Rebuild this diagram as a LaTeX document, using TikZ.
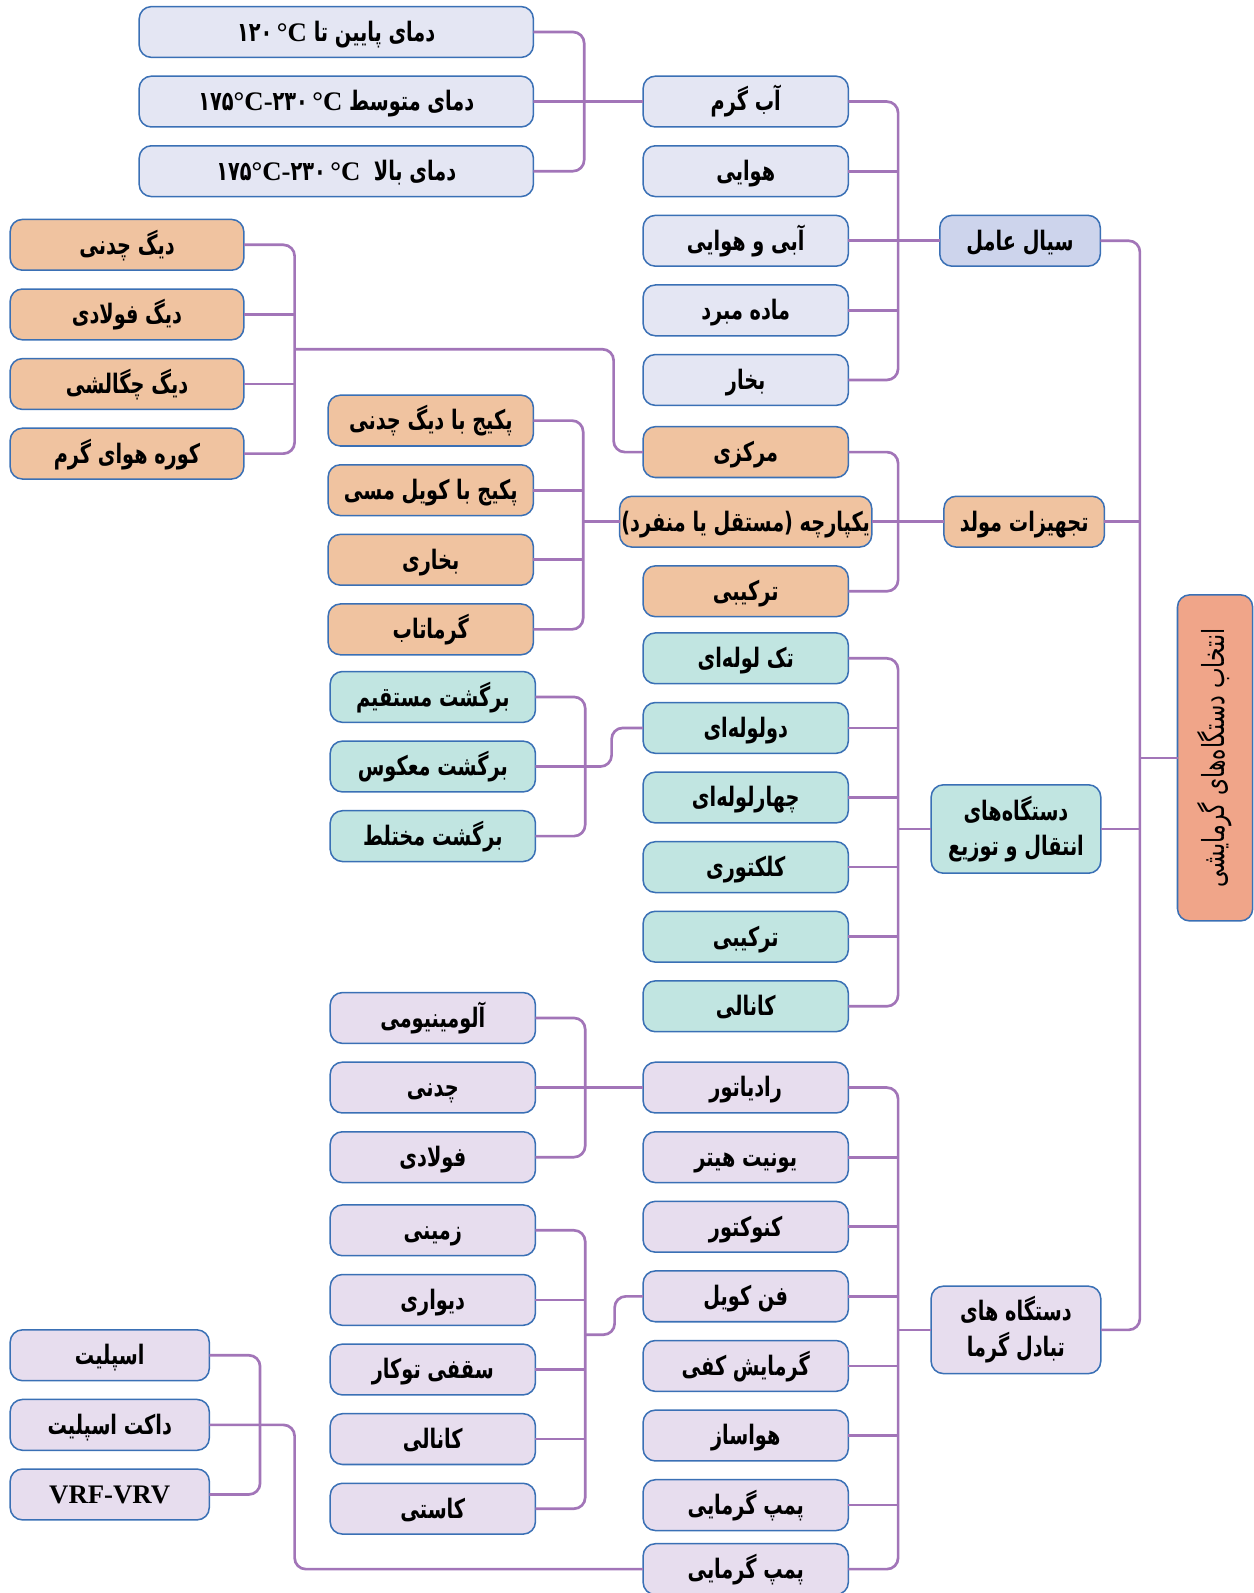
\documentclass[tikz,border=0pt]{standalone}
\usepackage{fontspec}
\usepackage{tikz}
\usetikzlibrary{positioning,calc}
\TeXXeTstate=1
\newfontfamily\fa[Script=Arabic,FakeStretch=0.72]{DejaVu Sans}
\newfontfamily\lat{Liberation Serif}
\definecolor{bordblue}{HTML}{3A70B5}
\definecolor{linkpurple}{HTML}{A275B8}
\definecolor{greyfill}{HTML}{E4E6F3}
\definecolor{sialfill}{HTML}{CDD4EC}
\definecolor{orfill}{HTML}{F0C3A0}
\definecolor{tealfill}{HTML}{C1E5E1}
\definecolor{lavfill}{HTML}{E7DDEE}
\definecolor{rootfill}{HTML}{F0A589}
\newcommand{\farsi}[1]{\beginR #1\endR}

\begin{document}
\begin{tikzpicture}[node distance=0.37cm,font=\fa\bfseries\fontsize{15}{20}\selectfont]
    \tikzstyle{box}=[draw=bordblue,line width=0.85pt,rounded corners=0.24cm,minimum width=4.04cm,minimum height=1cm,inner sep=1pt,outer sep=0pt,text height=0.46cm,text depth=0.09cm,align=center]
    \tikzstyle{tall}=[text height={},text depth={}]
    \tikzstyle{gbox}=[box,fill=greyfill]
    \tikzstyle{sbox}=[box,fill=sialfill,minimum width=3.16cm]
    \tikzstyle{obox}=[box,fill=orfill]
    \tikzstyle{tbox}=[box,fill=tealfill]
    \tikzstyle{pbox}=[box,fill=lavfill]
    \tikzstyle{link}=[draw=linkpurple,line width=1.5pt,rounded corners=0.22cm]
    \useasboundingbox (0,0) rectangle (24.68,-31.36);
    % temperatures
    \node[gbox,minimum width=7.76cm] (t1) at (6.62,-0.63) {\farsi{دمای پایین تا \beginL ۱۲۰{\lat\,°C}\endL}};
    \node[gbox,minimum width=7.76cm,below=of t1] (t2) {\farsi{دمای متوسط \beginL ۱۷۵{\lat °C-}۲۳۰{\lat\,°C}\endL}};
    \node[gbox,minimum width=7.76cm,below=of t2] (t3) {\farsi{دمای بالا\ \ \beginL ۱۷۵{\lat °C-}۲۳۰{\lat\,°C}\endL}};
    % working fluid
    \node[gbox] (ab) at (14.68,-2.0) {\farsi{آب گرم}};
    \node[gbox,below=of ab] (hava) {\farsi{هوایی}};
    \node[gbox,below=of hava] (abihava) {\farsi{آبی و هوایی}};
    \node[gbox,below=of abihava] (madde) {\farsi{ماده مبرد}};
    \node[gbox,below=of madde] (bokhar) {\farsi{بخار}};
    \node[sbox,right=1.8cm of abihava] (sial) {\farsi{سیال عامل}};
    % generators
    \node[obox,below=0.42cm of bokhar] (markazi) {\farsi{مرکزی}};
    \node[obox,minimum width=4.8cm,below=of markazi] (yekpar) {\farsi{یکپارچه (مستقل یا منفرد)}};
    \node[obox,below=of yekpar] (tarkib) {\farsi{ترکیبی}};
    \node[obox,minimum width=3.16cm,right=1.42cm of yekpar] (mowled) {\farsi{تجهیزات مولد}};
    \node[obox,minimum width=4.6cm] (dchodan) at (2.5,-4.82) {\farsi{دیگ چدنی}};
    \node[obox,minimum width=4.6cm,below=of dchodan] (dfoolad) {\farsi{دیگ فولادی}};
    \node[obox,minimum width=4.6cm,below=of dfoolad] (dchegal) {\farsi{دیگ چگالشی}};
    \node[obox,minimum width=4.6cm,below=of dchegal] (koore) {\farsi{کوره هوای گرم}};
    \node[obox] (pk1) at (8.48,-8.28) {\farsi{پکیج با دیگ چدنی}};
    \node[obox,below=of pk1] (pk2) {\farsi{پکیج با کویل مسی}};
    \node[obox,below=of pk2] (bokhari) {\farsi{بخاری}};
    \node[obox,below=of bokhari] (garmatab) {\farsi{گرماتاب}};
    % distribution
    \node[tbox,below=0.32cm of tarkib] (tak) {\farsi{تک لوله‌ای}};
    \node[tbox,below=of tak] (doloole) {\farsi{دولوله‌ای}};
    \node[tbox,below=of doloole] (chahar) {\farsi{چهارلوله‌ای}};
    \node[tbox,below=of chahar] (kolektori) {\farsi{کلکتوری}};
    \node[tbox,below=of kolektori] (tarkibt) {\farsi{ترکیبی}};
    \node[tbox,below=of tarkibt] (kanali) {\farsi{کانالی}};
    \node[tbox,tall,minimum width=3.34cm,minimum height=1.74cm] (entegal) at (20.0,-16.32) {\farsi{دستگاه‌های}\\\farsi{انتقال و توزیع}};
    \node[tbox] (bm1) at (8.52,-13.72) {\farsi{برگشت مستقیم}};
    \node[tbox,below=of bm1] (bm2) {\farsi{برگشت معکوس}};
    \node[tbox,below=of bm2] (bm3) {\farsi{برگشت مختلط}};
    % heat exchange
    \node[pbox,below=0.6cm of kanali] (radiator) {\farsi{رادیاتور}};
    \node[pbox,below=of radiator] (yunit) {\farsi{یونیت هیتر}};
    \node[pbox,below=of yunit] (konvektor) {\farsi{کنوکتور}};
    \node[pbox,below=of konvektor] (fancoil) {\farsi{فن کویل}};
    \node[pbox,below=of fancoil] (kafi) {\farsi{گرمایش کفی}};
    \node[pbox,below=of kafi] (havasaz) {\farsi{هواساز}};
    \node[pbox,below=of havasaz] (pomp1) {\farsi{پمپ گرمایی}};
    \node[pbox,below=0.26cm of pomp1] (pomp2) {\farsi{پمپ گرمایی}};
    \node[pbox,tall,minimum width=3.34cm,minimum height=1.72cm] (tabadol) at (20.0,-26.18) {\farsi{دستگاه های}\\\farsi{تبادل گرما}};
    \node[pbox] (al) at (8.52,-20.04) {\farsi{آلومینیومی}};
    \node[pbox,below=of al] (chodani) {\farsi{چدنی}};
    \node[pbox,below=of chodani] (foolad) {\farsi{فولادی}};
    \node[pbox] (zamini) at (8.52,-24.22) {\farsi{زمینی}};
    \node[pbox,below=of zamini] (divari) {\farsi{دیواری}};
    \node[pbox,below=of divari] (saqfi) {\farsi{سقفی توکار}};
    \node[pbox,below=of saqfi] (kanalif) {\farsi{کانالی}};
    \node[pbox,below=of kanalif] (kaseti) {\farsi{کاستی}};
    \node[pbox,minimum width=3.92cm] (esplit) at (2.16,-26.68) {\farsi{اسپلیت}};
    \node[pbox,minimum width=3.92cm,below=of esplit] (dakt) {\farsi{داکت اسپلیت}};
    \node[pbox,minimum width=3.92cm,below=of dakt] (vrf) {{\lat VRF-VRV}};
    % root
    \node[box,tall,fill=rootfill,minimum width=1.48cm,minimum height=6.42cm] (root) at (23.92,-14.92) {\rotatebox{90}{\mdseries\fontsize{17}{20}\selectfont\farsi{انتخاب دستگاه‌های گرمایشی}}};
    % brackets
    \coordinate (kt) at ([xshift=1cm]t1.east);
    \draw[link] (t1.east) -- (kt) |- (t3.east);
    \draw[link] (t2.east) -- (ab.west);
    \coordinate (kfl) at ([xshift=0.98cm]ab.east);
    \draw[link] (ab.east) -- (kfl) |- (bokhar.east);
    \draw[link] (hava.east) -- (hava.east -| kfl);
    \draw[link] (abihava.east) -- (abihava.east -| kfl);
    \draw[link] (madde.east) -- (madde.east -| kfl);
    \draw[link] (sial.west) -- (sial.west -| kfl);
    \coordinate (kg) at ([xshift=0.98cm]markazi.east);
    \draw[link] (markazi.east) -- (kg) |- (tarkib.east);
    \draw[link] (yekpar.east) -- (yekpar.east -| kg);
    \draw[link] (mowled.west) -- (mowled.west -| kg);
    \coordinate (kb) at ([xshift=1cm]dchodan.east);
    \coordinate (kbm) at ($(dfoolad.east)!0.5!(dchegal.east)+(1,0)$);
    \draw[link] (dchodan.east) -- (kb) |- (koore.east);
    \draw[link] (dfoolad.east) -- (dfoolad.east -| kb);
    \draw[link] (dchegal.east) -- (dchegal.east -| kb);
    \draw[link] (markazi.west) -- ++(-0.58,0) |- (kbm);
    \coordinate (kp) at ([xshift=0.98cm]pk1.east);
    \draw[link] (pk1.east) -- (kp) |- (garmatab.east);
    \draw[link] (pk2.east) -- (pk2.east -| kp);
    \draw[link] (bokhari.east) -- (bokhari.east -| kp);
    \draw[link] (yekpar.west) -- (yekpar.west -| kp);
    \coordinate (kd) at ([xshift=0.98cm]tak.east);
    \draw[link] (tak.east) -- (kd) |- (kanali.east);
    \draw[link] (doloole.east) -- (doloole.east -| kd);
    \draw[link] (chahar.east) -- (chahar.east -| kd);
    \draw[link] (kolektori.east) -- (kolektori.east -| kd);
    \draw[link] (tarkibt.east) -- (tarkibt.east -| kd);
    \draw[link] (entegal.west) -- (entegal.west -| kd);
    \coordinate (kr) at ([xshift=0.98cm]bm1.east);
    \draw[link] (bm1.east) -- (kr) |- (bm3.east);
    \draw[link] (doloole.west) -- ++(-0.62,0) |- (bm2.east);
    \coordinate (kh) at ([xshift=0.98cm]radiator.east);
    \draw[link] (radiator.east) -- (kh) |- (pomp2.east);
    \draw[link] (yunit.east) -- (yunit.east -| kh);
    \draw[link] (konvektor.east) -- (konvektor.east -| kh);
    \draw[link] (fancoil.east) -- (fancoil.east -| kh);
    \draw[link] (kafi.east) -- (kafi.east -| kh);
    \draw[link] (havasaz.east) -- (havasaz.east -| kh);
    \draw[link] (pomp1.east) -- (pomp1.east -| kh);
    \draw[link] (tabadol.west) -- (tabadol.west -| kh);
    \coordinate (ka) at ([xshift=0.98cm]al.east);
    \draw[link] (al.east) -- (ka) |- (foolad.east);
    \draw[link] (radiator.west) -- (radiator.west -| chodani.east);
    \coordinate (kf) at ([xshift=0.98cm]zamini.east);
    \coordinate (kfm) at ($(divari.east)!0.5!(saqfi.east)+(0.98,0)$);
    \draw[link] (zamini.east) -- (kf) |- (kaseti.east);
    \draw[link] (divari.east) -- (divari.east -| kf);
    \draw[link] (saqfi.east) -- (saqfi.east -| kf);
    \draw[link] (kanalif.east) -- (kanalif.east -| kf);
    \draw[link] (fancoil.west) -- ++(-0.56,0) |- (kfm);
    \coordinate (ks) at ([xshift=1cm]esplit.east);
    \draw[link] (esplit.east) -- (ks) |- (vrf.east);
    \draw[link] (dakt.east) -- ++(1.68,0) |- (pomp2.west);
    \coordinate (km) at ([xshift=0.78cm]sial.east);
    \draw[link] (sial.east) -- (km) |- (tabadol.east);
    \draw[link] (mowled.east) -- (mowled.east -| km);
    \draw[link] (entegal.east) -- (entegal.east -| km);
    \draw[link] (root.west) -- (root.west -| km);
  \end{tikzpicture}
\end{document}
